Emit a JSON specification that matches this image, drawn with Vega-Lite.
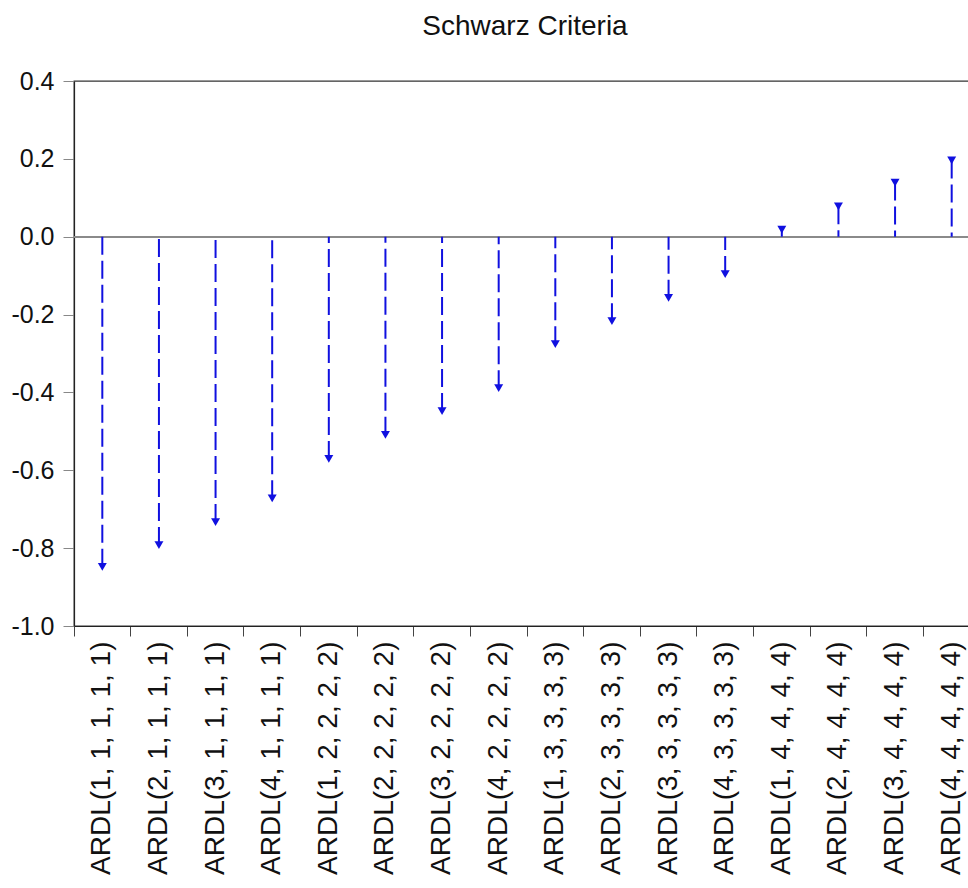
{
  "$schema": "https://vega.github.io/schema/vega-lite/v6.json",
  "width": 906,
  "height": 545,
  "autosize": {"type": "none"},
  "padding": {"left": 74, "top": 81, "right": 0, "bottom": 262},
  "background": "white",
  "title": {"text": "Schwarz Criteria", "fontSize": 28, "fontWeight": "normal", "font": "Liberation Sans", "color": "#111", "offset": 28, "anchor": "middle", "dx": -2},
  "config": {
    "view": {"stroke": "#333", "strokeWidth": 1.3},
    "font": "Liberation Sans"
  },
  "data": {"values": [
    {"model": "ARDL(1, 1, 1, 1, 1)", "sc": -0.848},
    {"model": "ARDL(2, 1, 1, 1, 1)", "sc": -0.792},
    {"model": "ARDL(3, 1, 1, 1, 1)", "sc": -0.733},
    {"model": "ARDL(4, 1, 1, 1, 1)", "sc": -0.672},
    {"model": "ARDL(1, 2, 2, 2, 2)", "sc": -0.571},
    {"model": "ARDL(2, 2, 2, 2, 2)", "sc": -0.509},
    {"model": "ARDL(3, 2, 2, 2, 2)", "sc": -0.448},
    {"model": "ARDL(4, 2, 2, 2, 2)", "sc": -0.389},
    {"model": "ARDL(1, 3, 3, 3, 3)", "sc": -0.276},
    {"model": "ARDL(2, 3, 3, 3, 3)", "sc": -0.217},
    {"model": "ARDL(3, 3, 3, 3, 3)", "sc": -0.157},
    {"model": "ARDL(4, 3, 3, 3, 3)", "sc": -0.096},
    {"model": "ARDL(1, 4, 4, 4, 4)", "sc": 0.018},
    {"model": "ARDL(2, 4, 4, 4, 4)", "sc": 0.078},
    {"model": "ARDL(3, 4, 4, 4, 4)", "sc": 0.139},
    {"model": "ARDL(4, 4, 4, 4, 4)", "sc": 0.196}
  ]},
  "encoding": {
    "x": {
      "field": "model", "type": "nominal", "sort": null,
      "scale": {"type": "band", "range": [0, 906], "paddingInner": 0, "paddingOuter": 0},
      "axis": {
        "title": null, "bandPosition": 0, "labelAngle": -90, "labelLimit": 500,
        "labelFontSize": 28, "labelColor": "#111", "labelPadding": 5, "labelFont": "Liberation Sans",
        "tickSize": 10, "tickColor": "#444", "domainColor": "#222", "domainWidth": 1.2, "grid": false
      }
    }
  },
  "layer": [
    {
      "mark": {"type": "rule", "color": "#8a8a8a", "strokeWidth": 1.5},
      "encoding": {"y": {"datum": 0, "type": "quantitative"}, "x": null}
    },
    {
      "mark": {"type": "rule", "color": "#1010e0", "strokeWidth": 2, "strokeDash": [18, 6]},
      "encoding": {
        "y": {
          "field": "sc", "type": "quantitative",
          "scale": {"domain": [-1, 0.4], "nice": false, "zero": false},
          "axis": {
            "title": null, "values": [-1, -0.8, -0.6, -0.4, -0.2, 0, 0.2, 0.4],
            "labelExpr": "replace(format(datum.value, '.1f'), '\u2212', '-')",
            "labelFontSize": 25, "labelColor": "#111", "labelPadding": 9, "labelFont": "Liberation Sans",
            "tickSize": 11, "tickColor": "#888", "domainColor": "#222", "domainWidth": 1.2, "grid": false
          }
        },
        "y2": {"datum": 0}
      }
    },
    {
      "mark": {"type": "point", "shape": "triangle-down", "filled": true, "color": "#1010e0", "size": 80, "opacity": 1},
      "encoding": {"y": {"field": "sc", "type": "quantitative"}}
    }
  ]
}
